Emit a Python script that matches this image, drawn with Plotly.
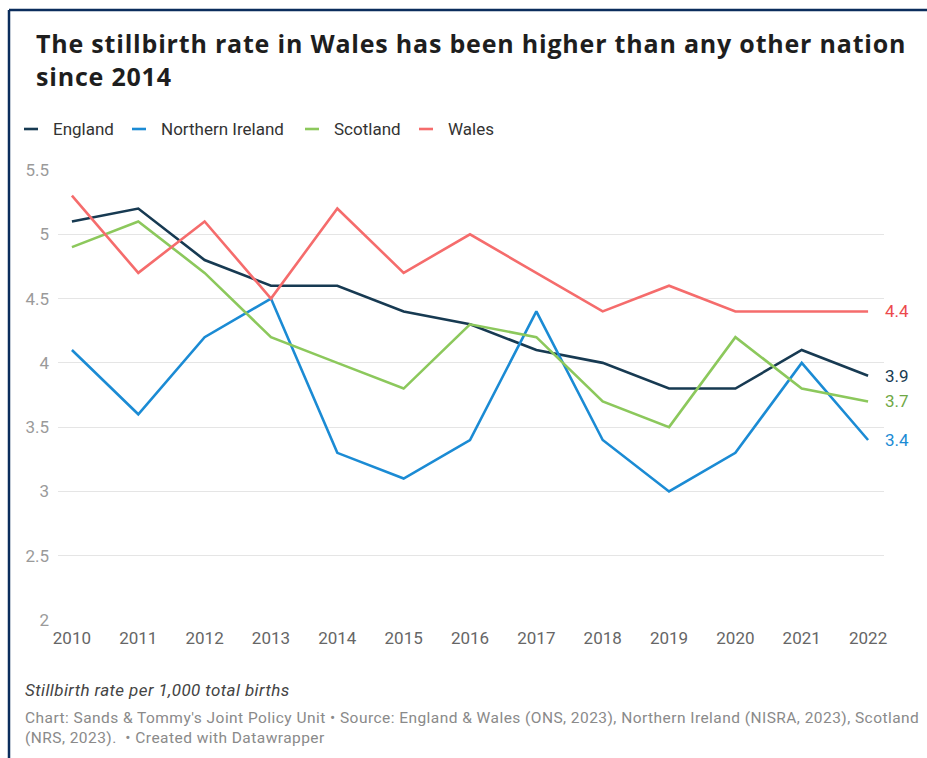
import plotly.graph_objects as go

# Stillbirth rate per 1,000 total births, by nation
years = list(range(2010, 2023))
england = [5.1, 5.2, 4.8, 4.6, 4.6, 4.4, 4.3, 4.1, 4.0, 3.8, 3.8, 4.1, 3.9]
northern_ireland = [4.1, 3.6, 4.2, 4.5, 3.3, 3.1, 3.4, 4.4, 3.4, 3.0, 3.3, 4.0, 3.4]
scotland = [4.9, 5.1, 4.7, 4.2, 4.0, 3.8, 4.3, 4.2, 3.7, 3.5, 4.2, 3.8, 3.7]
wales = [5.3, 4.7, 5.1, 4.5, 5.2, 4.7, 5.0, 4.7, 4.4, 4.6, 4.4, 4.4, 4.4]

y_ticks = [2, 2.5, 3, 3.5, 4, 4.5, 5, 5.5]
y_tick_text = ["2", "2.5", "3", "3.5", "4", "4.5", "5", "5.5"]

series = [
    ("England", england, "#173a52", "#173a52"),
    ("Northern Ireland", northern_ireland, "#1b8bd4", "#1b8bd4"),
    ("Scotland", scotland, "#8cc85c", "#6fa845"),
    ("Wales", wales, "#f56c6c", "#ec4a4c"),
]

W, H = 927, 758
L, R, T, B = 58, 43, 170, 138


def px(x):
    return (x - L) / (W - L - R)


def py(y):
    return (H - B - y) / (H - T - B)


def spaced(text, spacing):
    return f"<span style='letter-spacing:{spacing}px'>{text}</span>"


fig = go.Figure()
for name, vals, color, _ in series:
    fig.add_trace(go.Scatter(
        x=years, y=vals, mode="lines", name=name,
        line=dict(color=color, width=2.6), showlegend=False,
        cliponaxis=False,
    ))

annotations = []
shapes = []

# Title
annotations.append(dict(
    text="<b>" + spaced("The stillbirth rate in Wales has been higher than any other nation", 0.8)
         + "<br>" + spaced("since 2014", 0.8) + "</b>",
    xref="paper", yref="paper", x=px(34), y=py(24), xanchor="left", yanchor="top",
    align="left", showarrow=False,
    font=dict(family="Open Sans", size=25, color="#1e1e1e"),
))

# Legend row
legend_x = [24, 132, 305, 419]
for (name, vals, color, _), lx in zip(series, legend_x):
    shapes.append(dict(
        type="line", xref="paper", yref="paper",
        x0=px(lx), x1=px(lx + 14), y0=py(129), y1=py(129),
        line=dict(color=color, width=2.6),
    ))
    annotations.append(dict(
        text=name, xref="paper", yref="paper", x=px(lx + 27), y=py(129),
        xanchor="left", yanchor="middle", showarrow=False,
        font=dict(family="Roboto", size=17, color="#333333"),
    ))

# End-of-line value labels
for name, vals, _, label_color in series:
    annotations.append(dict(
        text=f"{vals[-1]:.1f}", x=years[-1], y=vals[-1], xref="x", yref="y",
        xanchor="left", yanchor="middle", xshift=15, showarrow=False,
        font=dict(family="Roboto", size=17, color=label_color),
    ))

# Notes
annotations.append(dict(
    text="<i>" + spaced("Stillbirth rate per 1,000 total births", 0.4) + "</i>",
    xref="paper", yref="paper", x=px(23), y=py(690), xanchor="left", yanchor="middle",
    showarrow=False, font=dict(family="Roboto", size=17, color="#444444"),
))
annotations.append(dict(
    text=spaced("Chart: Sands &amp; Tommy's Joint Policy Unit • Source: England &amp; Wales (ONS, 2023), "
                "Northern Ireland (NISRA, 2023), Scotland", 0.45)
         + "<br>" + spaced("(NRS, 2023).  • Created with Datawrapper", 0.45),
    xref="paper", yref="paper", x=px(23), y=py(707), xanchor="left", yanchor="top",
    align="left", showarrow=False,
    font=dict(family="Roboto", size=15.5, color="#8a8a8a"),
))

# Frame lines along the top and left edges
shapes.append(dict(type="line", xref="paper", yref="paper",
                   x0=px(9), x1=px(W), y0=py(10), y1=py(10),
                   line=dict(color="#0b2d5c", width=2.5)))
shapes.append(dict(type="line", xref="paper", yref="paper",
                   x0=px(9), x1=px(9), y0=py(10), y1=py(H),
                   line=dict(color="#0b2d5c", width=2.5)))

fig.update_layout(
    width=W, height=H,
    margin=dict(l=L, r=R, t=T, b=B, autoexpand=False),
    paper_bgcolor="white", plot_bgcolor="white",
    annotations=annotations, shapes=shapes,
    font=dict(family="Roboto"),
    xaxis=dict(
        range=[2009.79, 2022.24], tickmode="array", tickvals=years,
        ticktext=[str(y) for y in years], showgrid=False, zeroline=False,
        showline=False, ticks="", ticklabelstandoff=6,
        tickfont=dict(family="Roboto", size=17, color="#666666"),
    ),
    yaxis=dict(
        range=[2, 5.5], tickmode="array", tickvals=y_ticks, ticktext=y_tick_text,
        showgrid=True, gridcolor="#e5e5e5", gridwidth=1, zeroline=False,
        showline=False, ticks="", ticklabelstandoff=8,
        tickfont=dict(family="Roboto", size=17, color="#9a9a9a"),
    ),
)

fig.write_html("out.html")
